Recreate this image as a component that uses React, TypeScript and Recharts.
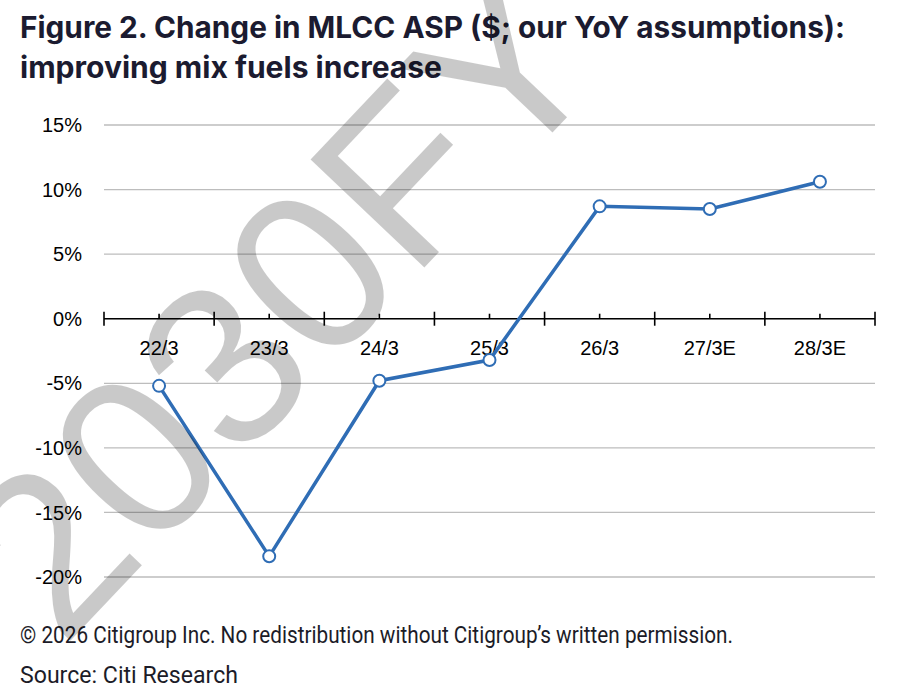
import React from 'react';
import { LineChart, Line, XAxis, YAxis, CartesianGrid, ReferenceLine } from 'recharts';

// Fiscal years (March year-end); E = estimate
const categories = ['22/3', '23/3', '24/3', '25/3', '26/3', '27/3E', '28/3E'];
// YoY change in MLCC ASP, %
const aspChange = [-5.2, -18.4, -4.8, -3.2, 8.7, 8.5, 10.6];
const yTicks = [-20, -15, -10, -5, 0, 5, 10, 15];

const titleLines = [
  'Figure 2. Change in MLCC ASP ($; our YoY assumptions):',
  'improving mix fuels increase',
];
const footerLines = [
  '\u00A9 2026 Citigroup Inc. No redistribution without Citigroup\u2019s written permission.',
  'Source: Citi Research',
];
const watermark = '2030FY';

const data = categories.map((c, i) => ({ cat: c, value: aspChange[i] }));

const LINE_BLUE = '#2f6db5';
const TICK_FONT = '"Liberation Sans", Arial, sans-serif';

const CHART_W = 916;
const Y_AXIS_W = 104;
const MARGIN_R = 41;
const PLOT_W = CHART_W - Y_AXIS_W - MARGIN_R;
// half a category band on each side so points sit at band centres
const HALF_BAND = PLOT_W / categories.length / 2;

// Category axis drawn along the zero line: major ticks at band edges,
// minor ticks at band centres, labels below.
const ZeroAxis = (props: any) => {
  const { x1, y1, x2 } = props;
  const n = categories.length;
  const band = (x2 - x1) / n;
  return (
    <g>
      <line x1={x1} y1={y1} x2={x2} y2={y1} stroke="#000" strokeWidth={1.6} />
      {Array.from({ length: n + 1 }, (_, i) => (
        <line key={'M' + i} x1={x1 + i * band} x2={x1 + i * band} y1={y1 - 7} y2={y1 + 7} stroke="#000" strokeWidth={1.6} />
      ))}
      {categories.map((c, i) => (
        <line key={'m' + i} x1={x1 + (i + 0.5) * band} x2={x1 + (i + 0.5) * band} y1={y1 - 5} y2={y1} stroke="#000" strokeWidth={1.6} />
      ))}
      {categories.map((c, i) => (
        <text key={'t' + i} x={x1 + (i + 0.5) * band} y={y1 + 36} textAnchor="middle" fontSize={20} fontFamily={TICK_FONT} fill="#000">
          {c}
        </text>
      ))}
    </g>
  );
};

export default function App() {
  return (
    <div style={{ position: 'absolute', left: 0, top: 0, width: 916, height: 692, background: '#fff', overflow: 'hidden' }}>
      <svg width={916} height={100} style={{ position: 'absolute', left: 0, top: 0 }}>
        <text x={20} y={37.5} fontFamily="Inter, sans-serif" fontWeight={700} fontSize={30} fill="#1b1b30" textLength={825} lengthAdjust="spacingAndGlyphs">
          {titleLines[0]}
        </text>
        <text x={20} y={77.5} fontFamily="Inter, sans-serif" fontWeight={700} fontSize={30} fill="#1b1b30" textLength={422} lengthAdjust="spacingAndGlyphs">
          {titleLines[1]}
        </text>
      </svg>

      <div style={{ position: 'absolute', left: 0, top: 0 }}>
        <LineChart width={CHART_W} height={600} data={data} margin={{ top: 125, right: MARGIN_R, bottom: 23, left: 0 }}>
          <CartesianGrid vertical={false} stroke="#bdbdbd" strokeWidth={1.3} />
          <XAxis dataKey="cat" hide padding={{ left: HALF_BAND, right: HALF_BAND }} />
          <YAxis
            width={Y_AXIS_W}
            domain={[-20, 15]}
            ticks={yTicks}
            axisLine={false}
            tickLine={false}
            tickMargin={16}
            tickFormatter={(v: number) => `${v}%`}
            tick={{ fontSize: 20, fill: '#000', fontFamily: TICK_FONT }}
          />
          <ReferenceLine y={0} shape={(p: any) => <ZeroAxis {...p} />} />
          <Line
            type="linear"
            dataKey="value"
            stroke={LINE_BLUE}
            strokeWidth={3.5}
            dot={{ r: 6, fill: '#fff', stroke: LINE_BLUE, strokeWidth: 2 }}
            isAnimationActive={false}
          />
        </LineChart>
      </div>

      <svg width={916} height={80} style={{ position: 'absolute', left: 0, top: 612 }}>
        <text x={20} y={31} fontFamily="Roboto, sans-serif" fontSize={23.5} fill="#1c1c28" textLength={713} lengthAdjust="spacingAndGlyphs">
          {footerLines[0]}
        </text>
        <text x={20} y={71} fontFamily="Roboto, sans-serif" fontSize={23.5} fill="#1c1c28" textLength={218} lengthAdjust="spacingAndGlyphs">
          {footerLines[1]}
        </text>
      </svg>

      <svg width={916} height={692} style={{ position: 'absolute', left: 0, top: 0, pointerEvents: 'none' }}>
        <text
          x={280}
          y={305}
          textAnchor="middle"
          dominantBaseline="central"
          fontFamily='"Liberation Sans", Arial, sans-serif'
          fontSize={228}
          fill="#000"
          fillOpacity={0.21}
          transform="rotate(-46.5 280 305)"
        >
          {watermark}
        </text>
      </svg>
    </div>
  );
}
